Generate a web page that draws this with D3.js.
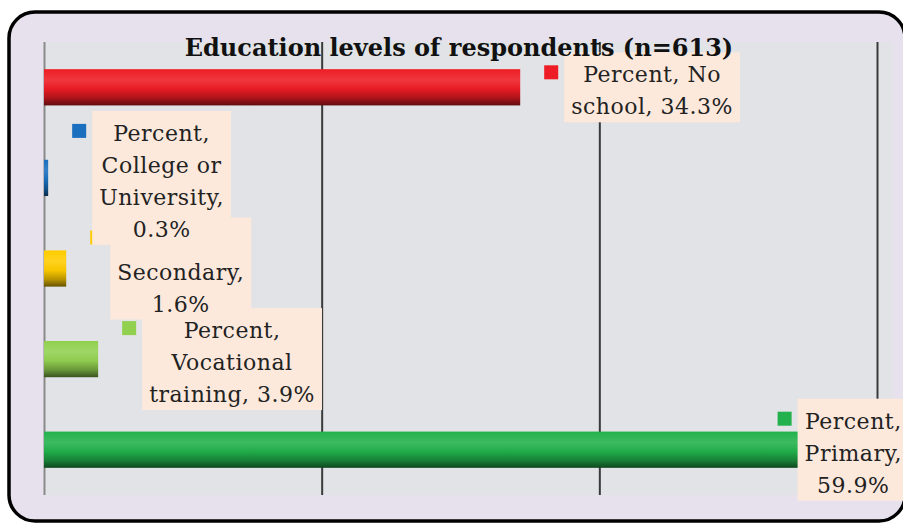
<!DOCTYPE html>
<html>
<head>
<meta charset="utf-8">
<script src="https://cdn.jsdelivr.net/npm/d3@7"></script>
<style>
  html, body { margin: 0; padding: 0; background: #ffffff; overflow: hidden; }
  svg { display: block; }
</style>
</head>
<body>
<svg id="chart" width="903" height="524"></svg>
<script>
// Education level categories, listed top to bottom as drawn
const categories = ["No school", "College or University", "Secondary", "Vocational training", "Primary"];
// Share of respondents (%)
const percents = [34.3, 0.3, 1.6, 3.9, 59.9];
// Bar colours per category
const barColors = ["#ee1c24", "#1b6fbf", "#ffcc00", "#92d050", "#22b14c"];
// Gridline positions on the percent axis
const xTicks = [0, 20, 40, 60];
// Words per line for each wrapped data label
const labelWrap = [[2, 2], [1, 2, 1, 1], [1, 1, 1], [1, 1, 2], [1, 1, 1]];
const titleText = "Education levels of respondents (n=613)";

// Layout
const plot = { left: 44, right: 877, top: 42, bottom: 495 };
const labelFont = "'DejaVu Serif', 'Liberation Serif', serif";

const svg = d3.select("#chart");
const defs = svg.append("defs");

// Cylinder-like vertical shading for each bar colour
function shade(c, k) {
  const col = d3.color(c);
  return k >= 0 ? d3.interpolateRgb(col, "#ffffff")(k).toString()
                : d3.interpolateRgb(col, "#000000")(-k).toString();
}
barColors.forEach((c, i) => {
  const g = defs.append("linearGradient")
    .attr("id", "grad" + i).attr("x1", 0).attr("y1", 0).attr("x2", 0).attr("y2", 1);
  [[0, 0], [0.3, 0.12], [0.55, -0.03], [0.8, -0.28], [1, -0.6]].forEach(([o, k]) => {
    g.append("stop").attr("offset", o).attr("stop-color", shade(c, k));
  });
});

// Outer rounded frame
svg.append("rect")
  .attr("x", 9).attr("y", 12).attr("width", 896).attr("height", 509)
  .attr("rx", 26).attr("ry", 26)
  .attr("fill", "#e6e1ed").attr("stroke", "#000").attr("stroke-width", 3.5);

// Plot area background
svg.append("rect")
  .attr("x", plot.left).attr("y", plot.top)
  .attr("width", 893 - plot.left).attr("height", plot.bottom - plot.top)
  .attr("fill", "#e1e3e6");

const x = d3.scaleLinear().domain([0, 60]).range([plot.left, plot.right]);
const y = d3.scaleBand().domain(categories).range([plot.top, plot.bottom])
  .paddingInner(0.6).paddingOuter(0.3);

// Vertical gridlines via axis ticks
const grid = svg.append("g")
  .attr("transform", `translate(0,${plot.bottom})`)
  .call(d3.axisBottom(x).tickValues(xTicks).tickSize(-(plot.bottom - plot.top)).tickFormat(""));
grid.select(".domain").remove();
grid.selectAll(".tick line")
  .attr("stroke", d => d === 0 ? "#8a8a8a" : "#3a3a3a")
  .attr("stroke-width", 2);

// Bars
svg.append("g").selectAll("rect")
  .data(categories)
  .join("rect")
  .attr("x", x(0))
  .attr("y", d => y(d))
  .attr("width", (d, i) => x(percents[i]) - x(0))
  .attr("height", y.bandwidth())
  .attr("fill", (d, i) => `url(#grad${i})`);

// Data labels: drawn bottom category first so upper labels sit on top.
// labelOffset: gap from bar end to label box; hiddenLines: leading lines
// that lie beneath the label box above and are left out.
const labelOffset = [44, 44, 44, 44, -78];
const hiddenLines = [0, 0, 1, 0, 0];
const lineH = 32, padX = 7;
const labelsG = svg.append("g");
d3.range(categories.length).reverse().forEach(i => {
  const words = `Percent, ${categories[i]}, ${percents[i].toFixed(1)}%`.split(" ");
  const lines = [];
  let p = 0;
  labelWrap[i].forEach(n => { lines.push(words.slice(p, p + n).join(" ")); p += n; });

  const g = labelsG.append("g");
  const box = g.append("rect").attr("fill", "#fce9dc");
  const t = g.append("text")
    .attr("font-family", labelFont).attr("font-size", 22)
    .attr("letter-spacing", 0.5)
    .attr("fill", "#222").attr("text-anchor", "middle");
  lines.forEach((s, k) => { if (k >= hiddenLines[i]) t.append("tspan").datum(k).text(s); });
  let maxW = 0;
  t.selectAll("tspan").each(function () { maxW = Math.max(maxW, this.getComputedTextLength()); });

  const bw = maxW + 2 * padX;
  const bh = lines.length * lineH + 6;
  const left = x(percents[i]) + labelOffset[i];
  const top = y(categories[i]) + y.bandwidth() / 2 - bh / 2;
  box.attr("x", left).attr("y", top).attr("width", bw).attr("height", bh);
  t.selectAll("tspan")
    .attr("x", left + bw / 2)
    .attr("y", k => top + 30 + k * lineH);

  g.append("rect")
    .attr("x", left - 20).attr("y", top + 13)
    .attr("width", 14).attr("height", 14)
    .attr("fill", barColors[i]);
});

// Title, drawn last so it sits over the labels
svg.append("text")
  .attr("x", 459).attr("y", 56)
  .attr("text-anchor", "middle")
  .attr("font-family", labelFont).attr("font-weight", "bold").attr("font-size", 24)
  .attr("fill", "#111")
  .text(titleText);
</script>
</body>
</html>
